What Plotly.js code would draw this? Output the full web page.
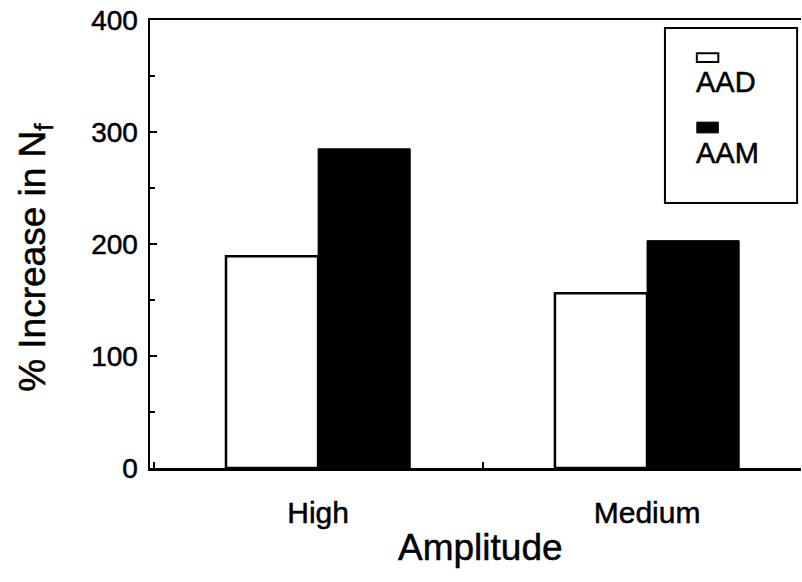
<!DOCTYPE html>
<html>
<head>
<meta charset="utf-8">
<script src="https://cdn.plot.ly/plotly-3.0.1.min.js"></script>
<style>
html,body{margin:0;padding:0;background:#fff;}
#chart svg text{stroke:#000;stroke-width:0.5px;}
</style>
</head>
<body>
<div id="chart" style="width:802px;height:582px;"></div>
<script>
const categories = ["High", "Medium"];
const seriesNames = ["AAD", "AAM"];
const aadValues = [189, 156];
const aamValues = [285, 203];
const xAxisTitle = "Amplitude";
const yAxisTitle = "% Increase in N<sub>f</sub>";

const FONT = "Liberation Sans, Arial, Helvetica, sans-serif";

const traces = [
  {
    type: "bar", name: seriesNames[0], x: categories, y: aadValues,
    marker: {color: "#ffffff", line: {color: "#000000", width: 2.5}},
    showlegend: false
  },
  {
    type: "bar", name: seriesNames[1], x: categories, y: aamValues,
    marker: {color: "#000000", line: {color: "#000000", width: 1}},
    showlegend: false
  }
];

const layout = {
  width: 802, height: 582,
  margin: {l: 150, r: 1, t: 20, b: 114},
  paper_bgcolor: "#ffffff", plot_bgcolor: "#ffffff",
  font: {family: FONT, color: "#000000"},
  barmode: "group", bargap: 0.44, bargroupgap: 0,
  xaxis: {
    type: "category", range: [-0.511, 1.468],
    showline: true, linecolor: "#000", linewidth: 2.5, mirror: true,
    ticks: "inside", tickson: "boundaries", ticklen: 6, tickwidth: 2, tickcolor: "#000",
    showgrid: false, zeroline: false,
    tickfont: {size: 30, family: FONT},
    ticklabelstandoff: 16
  },
  yaxis: {
    range: [0, 400], dtick: 100, tick0: 0,
    showline: true, linecolor: "#000", linewidth: 2.5,
    ticks: "inside", ticklen: 7, tickwidth: 2, tickcolor: "#000",
    minor: {dtick: 50, ticks: "inside", ticklen: 5, tickwidth: 2, tickcolor: "#000"},
    showgrid: false, zeroline: false,
    tickfont: {size: 28, family: FONT},
    ticklabelstandoff: 4
  },
  shapes: [
    {type: "rect", xref: "paper", yref: "paper", x0: 0.791, x1: 0.994, y0: 0.5915, y1: 0.982,
     line: {color: "#000", width: 2}, fillcolor: "rgba(0,0,0,0)"},
    {type: "rect", xref: "paper", yref: "paper", x0: 0.840, x1: 0.873, y0: 0.906, y1: 0.926,
     line: {color: "#000", width: 2}, fillcolor: "#fff"},
    {type: "rect", xref: "paper", yref: "paper", x0: 0.840, x1: 0.873, y0: 0.748, y1: 0.772,
     line: {color: "#000", width: 1}, fillcolor: "#000"}
  ],
  annotations: [
    {xref: "paper", yref: "paper", x: 0.836, y: 0.862, xanchor: "left", yanchor: "middle",
     text: seriesNames[0], showarrow: false, font: {size: 29, family: FONT}},
    {xref: "paper", yref: "paper", x: 0.836, y: 0.703, xanchor: "left", yanchor: "middle",
     text: seriesNames[1], showarrow: false, font: {size: 29, family: FONT}},
    {xref: "paper", yref: "paper", x: 0.508, y: -0.178, xanchor: "center", yanchor: "middle",
     text: xAxisTitle, showarrow: false, font: {size: 37, family: FONT}},
    {xref: "paper", yref: "paper", x: -0.176, y: 0.47, xanchor: "center", yanchor: "middle",
     textangle: -90, text: yAxisTitle, showarrow: false, font: {size: 37, family: FONT}}
  ]
};

Plotly.newPlot("chart", traces, layout, {displayModeBar: false, staticPlot: true});
</script>
</body>
</html>
